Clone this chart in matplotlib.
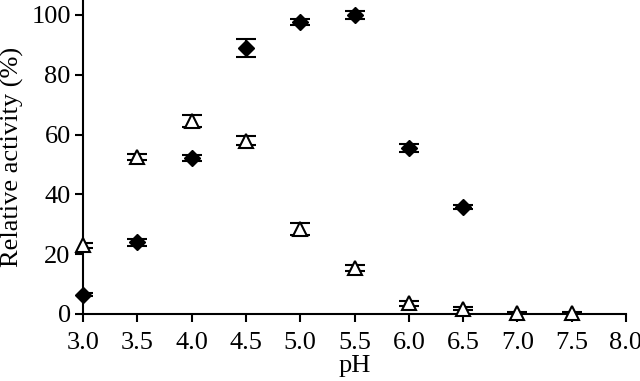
import matplotlib
matplotlib.use('Agg')
import matplotlib.pyplot as plt

serif = 'Liberation Serif'
plt.rcParams['font.family'] = serif

ph_a = [3.0, 3.5, 4.0, 4.5, 5.0, 5.5, 6.0, 6.5]
act_a = [6.5, 24.0, 52.0, 89.0, 97.5, 100.0, 55.5, 35.7]
err_a = [0.5, 1.2, 1.0, 3.0, 1.0, 1.2, 1.5, 0.6]

ph_b = [3.0, 3.5, 4.0, 4.5, 5.0, 5.5, 6.0, 6.5, 7.0, 7.5]
act_b = [23.0, 52.5, 64.5, 58.0, 28.5, 15.5, 3.5, 1.8, 0.3, 0.3]
err_b = [0.8, 1.0, 2.0, 1.5, 2.0, 1.0, 0.8, 0.5, 0.3, 0.3]

xticks = [3.0, 3.5, 4.0, 4.5, 5.0, 5.5, 6.0, 6.5, 7.0, 7.5, 8.0]
yticks = [0, 20, 40, 60, 80, 100]

fig = plt.figure(figsize=(6.4, 3.81), dpi=100)
ax = fig.add_axes([0.13, 0.176, 0.848, 0.824])

# error bars (clipped at the axes like the original), markers on top unclipped
ax.errorbar(ph_b, act_b, yerr=err_b, fmt='none', ecolor='black',
            capsize=7, elinewidth=1.5, capthick=1.5, zorder=2)
ax.errorbar(ph_a, act_a, yerr=err_a, fmt='none', ecolor='black',
            capsize=7, elinewidth=1.5, capthick=1.5, zorder=2)
ax.plot(ph_b, act_b, '^', mfc='white', mec='black', mew=1.5, ms=10,
        clip_on=False, zorder=3)
ax.plot(ph_a, act_a, 'D', mfc='black', mec='black', ms=8,
        clip_on=False, zorder=4)

ax.set_xlim(3.0, 8.0)
ax.set_ylim(0, 105)
ax.set_xticks(xticks)
ax.set_xticklabels(['%.1f' % t for t in xticks], family=serif, fontsize=19)
ax.set_yticks(yticks)
ax.set_yticklabels([str(t) for t in yticks], family=serif, fontsize=19)
ax.tick_params(width=1.5, length=6, direction='out')
ax.tick_params(axis='x', pad=7)
ax.tick_params(axis='y', pad=3)
ax.spines['top'].set_visible(False)
ax.spines['right'].set_visible(False)
ax.spines['left'].set_linewidth(1.5)
ax.spines['bottom'].set_linewidth(1.5)
ax.set_xlabel('pH', fontsize=19, family=serif, labelpad=1)
ax.set_ylabel('Relative activity (%)', fontsize=19, family=serif, labelpad=5)

fig.savefig('out.png', dpi=100)
